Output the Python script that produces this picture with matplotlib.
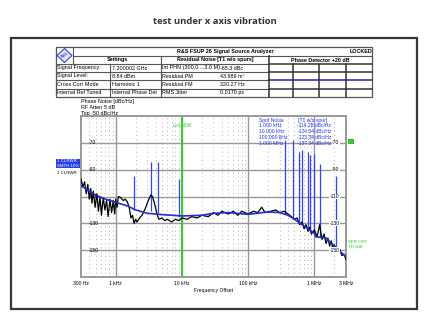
import matplotlib.pyplot as plt
from matplotlib.patches import Rectangle, Polygon
import numpy as np

# phase noise trace (black, raw)
raw_f = [300, 320, 340, 360, 380, 400, 420, 440, 460, 490, 520, 550, 580, 610, 650,
         690, 730, 770, 820, 870, 920, 970, 1000, 1050, 1100, 1200, 1300, 1400, 1500,
         1600, 1700, 1800, 1900, 2000, 2100, 2300, 2500, 2800, 3100, 3400, 3600, 3900,
         4200, 4500, 5000, 5500, 6000, 7000, 8000, 9000, 10000, 12000, 14000, 17000,
         20000, 25000, 30000, 35000, 40000, 50000, 60000, 70000, 80000, 100000, 120000,
         140000, 160000, 180000, 220000, 260000, 300000, 350000, 400000, 450000, 500000,
         550000, 600000, 650000, 700000, 750000, 800000, 850000, 900000, 1000000,
         1100000, 1200000, 1300000, 1400000, 1500000, 1600000, 1700000, 1800000,
         1900000, 2000000, 2200000, 2400000, 2600000, 2800000, 3000000]
raw_db = [-97, -103, -99, -108, -101, -112, -104, -115, -106, -118, -108, -121, -110,
          -124, -111, -120, -113, -125, -112, -122, -113, -123, -112, -118, -110, -111,
          -113, -112, -114, -118, -126, -124, -130, -127, -129, -126, -124, -119, -113,
          -109, -110, -116, -123, -127, -126, -128, -127, -129, -127, -128, -126, -127,
          -125, -126, -124, -125, -122, -124, -121, -123, -121, -124, -121, -123, -121,
          -122, -118, -122, -121, -120, -122, -121, -123, -125, -127, -126, -131, -129,
          -134, -131, -136, -133, -138, -135, -140, -131, -142, -138, -145, -141, -147,
          -143, -149, -146, -151, -149, -154, -153, -157]

# smoothed trace (blue)
smooth_f = [300, 400, 500, 700, 1000, 1500, 2000, 3000, 5000, 10000, 20000, 30000,
            50000, 100000, 200000, 300000, 400000, 500000, 700000, 1000000, 1050000,
            1500000, 2000000, 3000000]
smooth_db = [-102, -106, -109, -112, -114.3, -117, -120, -122.5, -123.5, -124.5, -124,
             -122.5, -122, -123.3, -121.5, -122, -124, -127, -132, -137.3, -140, -141,
             -147, -155]

# spurs
spur_f = [1900, 3400, 4400, 9000, 357000, 470000, 580000, 660000, 790000, 870000,
          990000, 1200000, 2100000]
spur_top = [-95, -84, -84, -97, -68, -68, -77, -75, -77, -79, -78, -86, -95]
spur_base = [-120, -121, -122, -125, -123, -126, -129, -131, -134, -135, -137, -140, -148]

xtick_vals = [300, 1e3, 1e4, 1e5, 1e6, 3e6]
xtick_labels = ["300 Hz", "1 kHz", "10 kHz", "100 kHz", "1 MHz", "3 MHz"]
ygrid = [-70, -90, -110, -130, -150]

spot_freq = ["1.000 kHz", "10.000 kHz", "100.000 kHz", "1.000 MHz"]
spot_val = ["-114.28 dBc/Hz", "-124.54 dBc/Hz", "-123.34 dBc/Hz", "-137.34 dBc/Hz"]

set_labels = ["Signal Frequency:", "Signal Level:", "Cross Corr Mode", "Internal Ref Tuned"]
set_values = ["7.200002 GHz", "8.84 dBm", "Harmonic 1", "Internal Phase Det"]
res_labels = ["Int PHN (300.0 ...3.0 M)", "Residual PM", "Residual FM", "RMS Jitter"]
res_values = ["-65.3 dBc", "43.989 m\u00b0", "320.27 Hz", "0.0170 ps"]

W, H = 430, 324
fig = plt.figure(figsize=(W / 100, H / 100), dpi=100)
fs = 3.9
tf = "Liberation Sans"

# background layer in pixel coordinates
bg = fig.add_axes([0, 0, 1, 1], zorder=0)
bg.set_xlim(0, W)
bg.set_ylim(H, 0)
bg.axis("off")

fig.text(0.5, 1 - 22 / H, "test under x axis vibration", ha="center", va="center",
         fontsize=6.8, fontweight="bold", family="Open Sans", color="#333333")
bg.add_patch(Rectangle((11, 38), 406, 271, fill=False, ec="#3a3434", lw=1.6))

# table
line_kw = dict(color="#555555", lw=0.8)
rows = [47, 56, 64, 72, 80, 88.5, 96.7]
L, R = 56, 372
bg.add_patch(Rectangle((L, rows[0]), R - L, rows[-1] - rows[0], fill=False, ec="#555555", lw=0.9))
for y in rows[1:-1]:
    x0 = 73 if y == 56 else L
    bg.plot([x0, 269], [y, y], **line_kw)
bg.plot([269, R], [56, 56], **line_kw)
bg.plot([73, 73], [rows[0], rows[2]], **line_kw)
bg.plot([161, 161], [rows[1], rows[-1]], **line_kw)
bg.plot([269, 269], [rows[1], rows[-1]], color="#333333", lw=1.1)
bg.plot([110, 110], [rows[2], rows[-1]], **line_kw)
for x in [293, 319, 346]:
    bg.plot([x, x], [rows[2], rows[-1]], color="#333333", lw=1.1)
for y in rows[2:-1]:
    bg.plot([269, R], [y, y], color="#1a2a9a" if y == 80 else "#333333", lw=1.1)
# logo
bg.add_patch(Polygon([(64.5, 48.5), (72, 55.5), (64.5, 62.5), (57, 55.5)], closed=True,
                     fc="#dde4ff", ec="#3344cc", lw=0.8))
bg.text(64.5, 55.5, "R&S", ha="center", va="center", fontsize=2.6, color="#3344cc",
        rotation=30, family=tf, fontweight="bold")

bg.text(225, 51.5, "R&S FSUP 26 Signal Source Analyzer", ha="center", va="center",
        fontsize=fs, fontweight="bold", family=tf)
bg.text(372, 51.5, "LOCKED", ha="right", va="center", fontsize=fs, fontweight="bold", family=tf)
bg.text(117, 60, "Settings", ha="center", va="center", fontsize=fs, fontweight="bold", family=tf)
bg.text(215, 60, "Residual Noise [T1 w/o spurs]", ha="center", va="center", fontsize=fs,
        fontweight="bold", family=tf)
bg.text(320, 60, "Phase Detector +20 dB", ha="center", va="center", fontsize=fs,
        fontweight="bold", family=tf)
for i in range(4):
    yc = (rows[i + 2] + rows[i + 3]) / 2
    bg.text(57, yc, set_labels[i], ha="left", va="center", fontsize=fs, family=tf)
    bg.text(112, yc, set_values[i], ha="left", va="center", fontsize=fs, family=tf)
    bg.text(162, yc, res_labels[i], ha="left", va="center", fontsize=fs, family=tf)
    if i == 0:
        bg.text(220, yc, res_values[i], ha="left", va="center", fontsize=fs, family=tf)
    else:
        bg.text(232, yc, res_values[i], ha="center", va="center", fontsize=fs, family=tf)

bg.text(81, 101, "Phase Noise [dBc/Hz]", ha="left", va="center", fontsize=fs, family=tf)
bg.text(81, 107.5, "RF Atten", ha="left", va="center", fontsize=fs, family=tf)
bg.text(104, 107.5, "5 dB", ha="left", va="center", fontsize=fs, family=tf)
bg.text(81, 114, "Top -50 dBc/Hz", ha="left", va="center", fontsize=fs, family=tf)

bg.add_patch(Rectangle((56, 159), 24, 9, fc="#2a3ee8", ec="none"))
bg.text(57, 161.3, "1 CLRWR", ha="left", va="center", fontsize=3.2, color="white", family=tf)
bg.text(57, 165.8, "SMTH 10%", ha="left", va="center", fontsize=3.2, color="white", family=tf)
bg.text(57, 172.5, "2 CLRWR", ha="left", va="center", fontsize=3.2, family=tf)

bg.add_patch(Rectangle((348, 138.5), 4.5, 4.5, fc="#22dd22", ec="#119911", lw=0.5))
bg.text(348, 242, "SPR OFF", ha="left", va="center", fontsize=3.2, color="#22cc22", family=tf)
bg.text(348, 247.5, "TH 0dB", ha="left", va="center", fontsize=3.2, color="#22cc22", family=tf)

# main plot
ax = fig.add_axes([81 / W, 1 - 277 / H, 265 / W, 161 / H], zorder=2)
ax.set_xscale("log")
ax.set_xlim(300, 3e6)
ax.set_ylim(-170, -50)

minor = [m * 10 ** e for e in range(2, 7) for m in range(2, 10) if 300 < m * 10 ** e < 3e6]
for f in minor:
    ax.axvline(f, color="#999999", lw=0.6, ls=(0, (1, 4)), zorder=1)
for f in [1e3, 1e4, 1e5, 1e6]:
    ax.axvline(f, color="#999999", lw=1.0, zorder=1)
for y in ygrid:
    ax.axhline(y, color="#999999", lw=1.0, zorder=1)
ax.axvline(1e4, color="#33cc33", lw=1.4, zorder=2)

ax.vlines(spur_f, spur_base, spur_top, color="#3345f0", lw=0.9, zorder=3)
ax.plot(raw_f, raw_db, color="black", lw=0.9, zorder=4)
ax.plot(smooth_f, smooth_db, color="#1f2fd0", lw=1.2, zorder=5)

yt = ax.get_yaxis_transform()
for y in ygrid:
    ax.text(0.03, y, str(y), transform=yt, ha="left", va="center", fontsize=3.6, family=tf,
            zorder=6)
    ax.text(0.975, y, str(y), transform=yt, ha="right", va="center", fontsize=3.6, family=tf,
            zorder=6, bbox=dict(fc="white", ec="none", pad=0.3))

ax.text(1e4, 0.94, "LoopBW", transform=ax.get_xaxis_transform(), ha="center", va="center",
        fontsize=3.6, color="#33cc33", family=tf, zorder=6)

# spot noise readout
at = ax.transAxes
ax.text(0.671, 0.975, "Spot Noise", transform=at, ha="left", va="center", fontsize=3.6,
        color="#2233ee", family=tf, zorder=6)
ax.text(0.82, 0.975, "[T1 w/o spur]", transform=at, ha="left", va="center", fontsize=3.6,
        color="#2233ee", family=tf, zorder=6)
for i in range(4):
    yy = 0.94 - i * 0.037
    ax.text(0.671, yy, spot_freq[i], transform=at, ha="left", va="center", fontsize=3.6,
            color="#2233ee", family=tf, zorder=6)
    ax.text(0.815, yy, spot_val[i], transform=at, ha="left", va="center", fontsize=3.6,
            color="#2233ee", family=tf, zorder=6)

ax.set_xticks(xtick_vals)
ax.set_xticklabels(xtick_labels, fontsize=3.6, family=tf)
ax.xaxis.set_minor_locator(plt.NullLocator())
ax.tick_params(axis="x", length=0, pad=3)
ax.set_yticks([])
ax.set_xlabel("Frequency Offset", fontsize=3.6, family=tf, labelpad=1.5)
for s in ax.spines.values():
    s.set_color("#999999")
    s.set_linewidth(1.4)

fig.savefig("out.png", dpi=100)
